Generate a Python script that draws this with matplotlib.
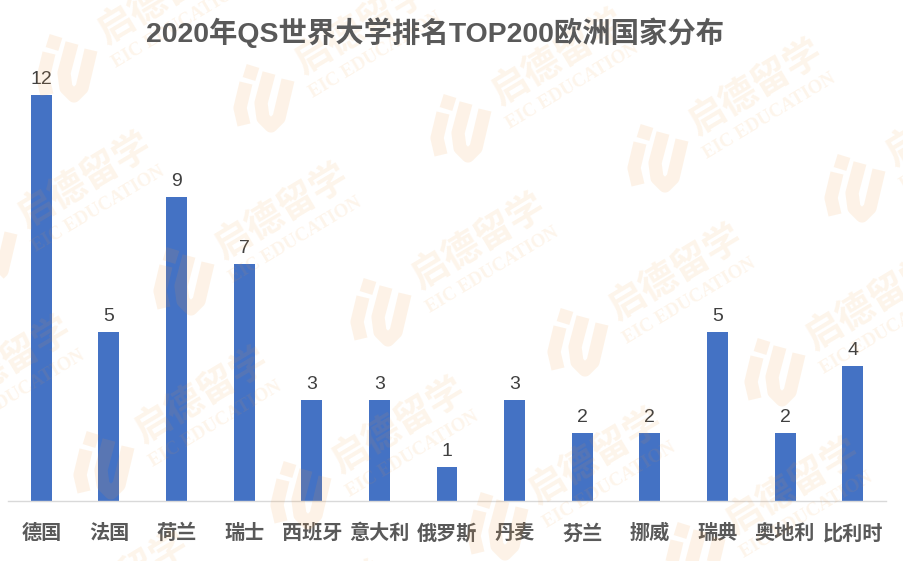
import matplotlib
matplotlib.use("Agg")
import matplotlib.pyplot as plt
from matplotlib.lines import Line2D

plt.rcParams['font.family'] = ['Liberation Sans', 'Noto Sans CJK SC']

W, H = 904, 561

countries = ['德国', '法国', '荷兰', '瑞士', '西班牙', '意大利', '俄罗斯',
             '丹麦', '芬兰', '挪威', '瑞典', '奥地利', '比利时']
counts = [12, 5, 9, 7, 3, 3, 1, 3, 2, 2, 5, 2, 4]

# watermark grid, in pixels from the top left corner
logo_rows = [
    [(66, 68), (263, 98), (460, 128), (657, 158), (854, 188)],
    [(-14, 251), (183, 281), (380, 312), (577, 342), (774, 372)],
    [(103, 465), (300, 495), (497, 526), (694, 556)],
]
text_rows = [
    [(165, -4), (362, 26), (559, 57), (756, 87), (953, 118)],
    [(85, 180), (282, 211), (479, 241), (676, 272), (873, 302)],
    [(5, 364), (202, 395), (399, 425), (596, 456), (793, 486)],
    [(122, 579), (319, 609), (516, 640)],
]
mark_color = '#F39A3C'
mark_alpha = 0.12


def px(x, y):
    return x / W, 1 - y / H


def draw_logo(fig, cx, cy):
    stem = [(-17, -15), (-23, 10), (-19, 27)]
    dot = [(-10, -32), (-14, -19)]
    bowl = [(6, -25), (-2, 5), (0, 20), (8, 28), (16, 20), (25, -18)]
    for shape in (stem, dot, bowl):
        xs, ys = zip(*[px(cx + a, cy + b) for a, b in shape])
        fig.add_artist(Line2D(xs, ys, transform=fig.transFigure, color=mark_color,
                              alpha=mark_alpha, lw=9.5, solid_capstyle='butt',
                              solid_joinstyle='round'))


def draw_watermark(fig):
    for row in logo_rows:
        for cx, cy in row:
            draw_logo(fig, cx, cy)
    for row in text_rows:
        for cx, cy in row:
            x, y = px(cx, cy)
            fig.text(x, y, '启德留学', fontsize=27, family='Noto Sans CJK SC', fontweight='bold',
                     color=mark_color, alpha=0.1, rotation=31, ha='center', va='center',
                     rotation_mode='anchor')
            x, y = px(cx + 14, cy + 29)
            fig.text(x, y, 'EIC EDUCATION', fontsize=13.5, family='Liberation Serif',
                     fontweight='bold', color=mark_color, alpha=0.1, rotation=31,
                     ha='center', va='center', rotation_mode='anchor')


def main():
    fig = plt.figure(figsize=(W / 100, H / 100), dpi=100)
    ax = fig.add_axes([7.5 / W, 1 - 501 / H, 879 / W, 406 / H])

    ax.bar(range(len(countries)), counts, width=0.31, color='#4472C4')
    for i, v in enumerate(counts):
        ax.annotate(str(v), (i, v), xytext=(0, 5), textcoords='offset points', ha='center',
                    va='bottom', fontsize=14, color='#404040', annotation_clip=False)

    ax.set_xlim(-0.5, len(countries) - 0.5)
    ax.set_ylim(0, 12)
    ax.set_xticks(range(len(countries)))
    ax.set_xticklabels(countries, fontsize=14.5, fontweight='bold', color='#595959')
    ax.tick_params(axis='x', length=0, pad=16.5)
    ax.set_yticks([])
    for side in ['top', 'left', 'right']:
        ax.spines[side].set_visible(False)
    ax.spines['bottom'].set_color('#D9D9D9')
    ax.spines['bottom'].set_linewidth(1)

    fig.text(435 / W, 1 - 33 / H, '2020年QS世界大学排名TOP200欧洲国家分布', fontsize=20.4,
             fontweight='bold', color='#595959', ha='center', va='center', zorder=5)

    draw_watermark(fig)
    fig.savefig('out.png', dpi=100)


if __name__ == "__main__":
    main()
